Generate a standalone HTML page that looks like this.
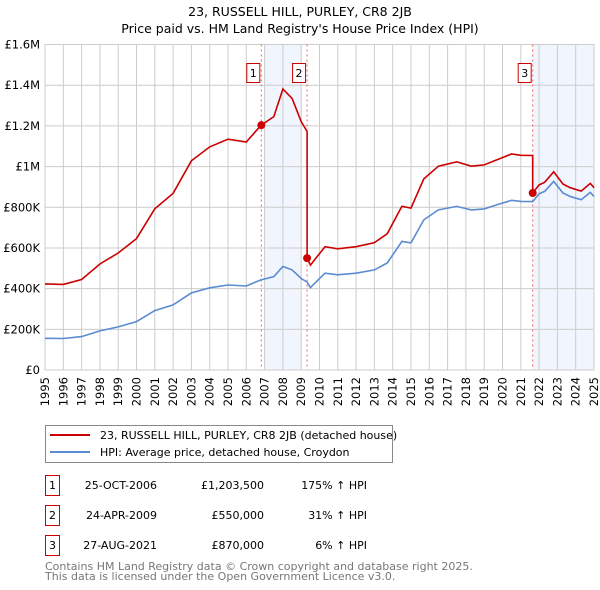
<!DOCTYPE html>
<html><head><meta charset="utf-8"><style>
body{margin:0;background:#fff}
svg{display:block;font-family:"DejaVu Sans","Liberation Sans",sans-serif}
</style></head><body>
<svg id="c" width="600" height="590" viewBox="0 0 600 590">
<text x="300" y="16" text-anchor="middle" font-size="12.5">23, RUSSELL HILL, PURLEY, CR8 2JB</text>
<text x="300" y="33" text-anchor="middle" font-size="12.5">Price paid vs. HM Land Registry's House Price Index (HPI)</text>
<g id="plot"></g>
<g>
<rect x="45.5" y="425.5" width="347" height="37" fill="#fff" stroke="#888"/>
<line x1="50" y1="435" x2="90" y2="435" stroke="#cc0000" stroke-width="2"/>
<text x="100" y="439" font-size="11">23, RUSSELL HILL, PURLEY, CR8 2JB (detached house)</text>
<line x1="50" y1="452" x2="90" y2="452" stroke="#5b8bd0" stroke-width="2"/>
<text x="100" y="456" font-size="11">HPI: Average price, detached house, Croydon</text>
</g>
<g id="tbl" font-size="11"></g>
<text x="45" y="570" font-size="11" fill="#777">Contains HM Land Registry data © Crown copyright and database right 2025.</text>
<text x="45" y="580" font-size="11" fill="#777">This data is licensed under the Open Government Licence v3.0.</text>
</svg>
<script>
const hpiYears=[1995,1996,1997,1998,1999,2000,2001,2002,2003,2004,2005,2006,2006.8,2007.5,2008,2008.5,2009.0,2009.32,2009.5,2010.3,2011,2012,2013,2013.7,2014.5,2015,2015.7,2016.5,2017.5,2018.3,2019,2019.7,2020.5,2021,2021.65,2022,2022.3,2022.8,2023.3,2023.7,2024.3,2024.8,2025];
const hpiValues=[156,155,164,192,212,238,292,320,379,404,418,413,443,459,509,492,450,432,405,476,468,476,492,526,632,625,738,787,804,787,792,812,834,829,828,866,878,927,870,853,837,873,853];
const saleYears=[2006.82,2009.32,2021.65];
const salePrices=[1203.5,550,870];
const saleLabels=["1","2","3"];
const saleDates=["25-OCT-2006","24-APR-2009","27-AUG-2021"];
const salePriceText=["£1,203,500","£550,000","£870,000"];
const saleHpiText=["175% ↑ HPI","31% ↑ HPI","6% ↑ HPI"];
const yTicks=[0,200,400,600,800,1000,1200,1400,1600];
const yTickLabels=["£0","£200K","£400K","£600K","£800K","£1M","£1.2M","£1.4M","£1.6M"];
const xTicks=[1995,1996,1997,1998,1999,2000,2001,2002,2003,2004,2005,2006,2007,2008,2009,2010,2011,2012,2013,2014,2015,2016,2017,2018,2019,2020,2021,2022,2023,2024,2025];

const X0=45,X1=594,Y0=370,Y1=44.5;
const xs=y=>X0+(y-1995)/30*(X1-X0);
const ys=v=>Y0-v/1600*(Y0-Y1);
const NS="http://www.w3.org/2000/svg";
function mk(tag,attrs,parent){const e=document.createElementNS(NS,tag);for(const k in attrs)e.setAttribute(k,attrs[k]);parent.appendChild(e);return e;}
function hpiAt(t){for(let i=0;i<hpiYears.length-1;i++){if(t<=hpiYears[i+1]){const f=(t-hpiYears[i])/(hpiYears[i+1]-hpiYears[i]);return hpiValues[i]+f*(hpiValues[i+1]-hpiValues[i]);}}return hpiValues[hpiValues.length-1];}
const plot=document.getElementById('plot');
const sh1=mk('rect',{x:xs(2007),y:Y1,width:xs(2009)-xs(2007),height:Y0-Y1,fill:'#eef3fc',opacity:0.8},plot);


const sh2=mk('rect',{x:xs(saleYears[2]),y:Y1,width:X1-xs(saleYears[2]),height:Y0-Y1,fill:'#eef3fc',opacity:0.8},plot);


yTicks.forEach((v,i)=>{
 const l=mk('line',{x1:X0,x2:X1,y1:ys(v),y2:ys(v),stroke:'#ccc'},plot);
 
 
 const t=mk('text',{x:40,y:ys(v)+4,'text-anchor':'end','font-size':11.5},plot);
 t.textContent=yTickLabels[i];
 
 
});
xTicks.forEach(yr=>{
 const l=mk('line',{x1:xs(yr),x2:xs(yr),y1:Y1,y2:Y0,stroke:'#ccc'},plot);
 
 
 const tx=xs(yr)+4, ty=377;
 const t=mk('text',{x:tx,y:ty,'text-anchor':'end','font-size':11.5,transform:'rotate(-90 '+tx+' '+ty+')'},plot);
 t.textContent=yr;
 
 
});
const fr=mk('rect',{x:X0,y:Y1,width:X1-X0,height:Y0-Y1,fill:'none',stroke:'#ccc'},plot);


saleYears.forEach((s,i)=>{
 const l=mk('line',{x1:xs(s),x2:xs(s),y1:Y1,y2:Y0,stroke:'#e66','stroke-dasharray':'2,3'},plot);
 
 
 const b=mk('rect',{x:xs(s)-14.5,y:63.5,width:13,height:19,fill:'#fff',stroke:'#c00'},plot);
 
 
 const t=mk('text',{x:xs(s)-8,y:77,'text-anchor':'middle','font-size':11},plot);
 t.textContent=saleLabels[i];
 
 
});
let d='';
hpiYears.forEach((y,i)=>{d+=(i?'L':'M')+xs(y).toFixed(1)+','+ys(hpiValues[i]).toFixed(1);});
const hl=mk('path',{d:d,fill:'none',stroke:'#5b8bd0','stroke-width':1.6},plot);


const grid=[...hpiYears,...saleYears].sort((a,b)=>a-b);
function factorAt(t){let f=salePrices[0]/hpiAt(saleYears[0]);for(let i=0;i<saleYears.length;i++){if(t>=saleYears[i])f=salePrices[i]/hpiAt(saleYears[i]);}return f;}
let rd='';
grid.forEach((t,i)=>{
 const idx=saleYears.indexOf(t);
 if(idx>0){const prevF=salePrices[idx-1]/hpiAt(saleYears[idx-1]);rd+='L'+xs(t).toFixed(1)+','+ys(hpiAt(t)*prevF).toFixed(1);}
 rd+=(i?'L':'M')+xs(t).toFixed(1)+','+ys(hpiAt(t)*factorAt(t)).toFixed(1);
});
const rl=mk('path',{d:rd,fill:'none',stroke:'#cc0000','stroke-width':1.6},plot);


saleYears.forEach((s,i)=>{
 const c=mk('circle',{cx:xs(s),cy:ys(salePrices[i]),r:4,fill:'#cc0000'},plot);
 
 
});
const tbl=document.getElementById('tbl');
saleYears.forEach((s,i)=>{
 const y=475+i*30;
 const b=mk('rect',{x:45.5,y:y+0.5,width:14,height:20,fill:'#fff',stroke:'#c00'},tbl);
 
 
 const cells=[[52.5,saleLabels[i],'middle'],[157,saleDates[i],'end'],[264,salePriceText[i],'end'],[367,saleHpiText[i],'end']];
 cells.forEach(c=>{
  const t=mk('text',{x:c[0],y:y+14,'text-anchor':c[2]},tbl);
  t.textContent=c[1];
  
  
 });
});
</script>
</body></html>
